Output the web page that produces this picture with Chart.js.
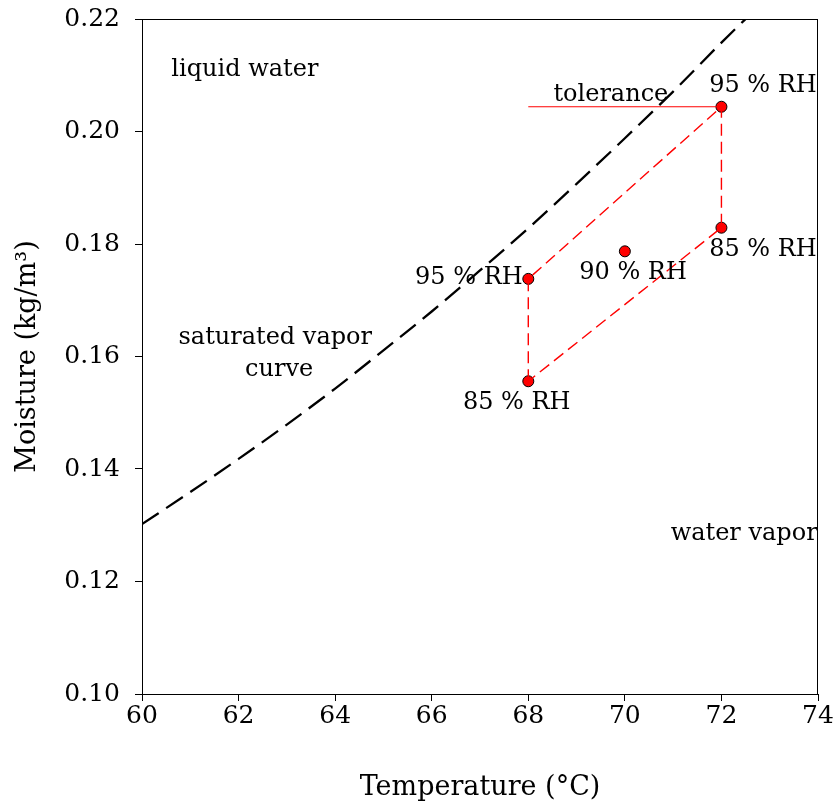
<!DOCTYPE html>
<html>
<head>
<meta charset="utf-8">
<script src="https://cdn.jsdelivr.net/npm/chart.js@4/dist/chart.umd.min.js"></script>
<style>
  html, body { margin: 0; padding: 0; background: #fff; }
  #wrap { width: 838px; height: 808px; }
</style>
</head>
<body>
<div id="wrap"><canvas id="chart"></canvas></div>
<script>
    "use strict";

    // saturated vapor curve
    var curveTemps = [60, 61, 62, 63, 64, 65, 66, 67, 68, 69, 70, 71, 72, 73, 74];
    var curveMoisture = [0.1302, 0.1359, 0.1418, 0.1479, 0.1543, 0.1611, 0.1680, 0.1753,
        0.1828, 0.1907, 0.1988, 0.2071, 0.2158, 0.2242, 0.2330];

    // test conditions
    var rhTemps = [68, 68, 70, 72, 72];
    var rhMoisture = [0.1556, 0.1738, 0.1787, 0.1829, 0.2044];
    var rhNames = ["85 % RH", "95 % RH", "90 % RH", "85 % RH", "95 % RH"];

    // tolerance window corners (order traces the outline)
    var boxTemps = [68, 68, 72, 72, 68];
    var boxMoisture = [0.1556, 0.1738, 0.2044, 0.1829, 0.1556];

    var toleranceTemps = [68, 72];
    var toleranceMoisture = [0.2044, 0.2044];

    var xTicks = [60, 62, 64, 66, 68, 70, 72, 74];
    var yTicks = [0.10, 0.12, 0.14, 0.16, 0.18, 0.20, 0.22];

    var FONT = "'DejaVu Serif', serif";

    function pairs(xs, ys) {
        var out = [];
        for (var i = 0; i < xs.length; i++) {
            out.push({ x: xs[i], y: ys[i] });
        }
        return out;
    }

    // text in the plot, anchored in data units
    var notes = [
        { text: "liquid water", x: 62.13, y: 0.2109 },
        { text: "tolerance", x: 69.71, y: 0.2065 },
        { text: "saturated vapor", x: 62.76, y: 0.1633 },
        { text: "curve", x: 62.84, y: 0.1576 },
        { text: "water vapor", x: 72.47, y: 0.1284 },
        { text: rhNames[4], x: 72.86, y: 0.2081 },
        { text: rhNames[3], x: 72.86, y: 0.1789 },
        { text: rhNames[2], x: 70.17, y: 0.1748 },
        { text: rhNames[1], x: 66.77, y: 0.1740 },
        { text: rhNames[0], x: 67.76, y: 0.1517 }
    ];

    var notesPlugin = {
        id: "notes",
        afterDatasetsDraw: function(chart) {
            var ctx = chart.ctx;
            var xs = chart.scales.x;
            var ys = chart.scales.y;
            ctx.save();
            ctx.fillStyle = "#000";
            ctx.font = "24px " + FONT;
            ctx.textAlign = "center";
            ctx.textBaseline = "middle";
            notes.forEach(function(n) {
                ctx.fillText(n.text, xs.getPixelForValue(n.x), ys.getPixelForValue(n.y));
            });
            ctx.restore();
        }
    };

    var framePlugin = {
        id: "frame",
        afterDraw: function(chart) {
            var a = chart.chartArea;
            var ctx = chart.ctx;
            ctx.save();
            ctx.strokeStyle = "#000";
            ctx.lineWidth = 1;
            ctx.strokeRect(a.left + 0.5, a.top + 0.5, a.right - a.left - 1, a.bottom - a.top);
            ctx.restore();
        }
    };

    new Chart(document.getElementById("chart"), {
        type: "scatter",
        data: {
            datasets: [{
                type: "line",
                data: pairs(curveTemps, curveMoisture),
                borderColor: "#000",
                borderWidth: 2.3,
                borderDash: [20, 9],
                pointRadius: 0,
                cubicInterpolationMode: "monotone",
                fill: false
            }, {
                type: "line",
                data: pairs(boxTemps, boxMoisture),
                borderColor: "#ff0000",
                borderWidth: 1.4,
                borderDash: [12, 6],
                pointRadius: 0,
                tension: 0,
                fill: false
            }, {
                type: "line",
                data: pairs(toleranceTemps, toleranceMoisture),
                borderColor: "#ff0000",
                borderWidth: 1.2,
                pointRadius: 0,
                tension: 0,
                fill: false
            }, {
                data: pairs(rhTemps, rhMoisture),
                backgroundColor: "#ff0000",
                borderColor: "#000",
                borderWidth: 1,
                pointRadius: 5.5
            }]
        },
        options: {
            responsive: true,
            maintainAspectRatio: false,
            animation: false,
            layout: { padding: { top: 19, right: 20, left: 0, bottom: 0 } },
            plugins: {
                legend: { display: false },
                tooltip: { enabled: false }
            },
            scales: {
                x: {
                    type: "linear",
                    min: 60,
                    max: 74,
                    afterBuildTicks: function(scale) {
                        scale.ticks = xTicks.map(function(v) { return { value: v }; });
                    },
                    afterFit: function(scale) {
                        scale.height = 114;
                        scale.paddingLeft = 0;
                        scale.paddingRight = 0;
                    },
                    grid: { drawOnChartArea: false, tickLength: 7, color: "#000" },
                    border: { color: "#000", width: 1 },
                    ticks: {
                        color: "#000",
                        padding: 0,
                        font: { family: FONT, size: 25 },
                        maxRotation: 0,
                        callback: function(v) { return String(v); }
                    },
                    title: {
                        display: true,
                        text: "Temperature (°C)",
                        color: "#000",
                        font: { family: FONT, size: 27 },
                        padding: { top: 18 }
                    }
                },
                y: {
                    type: "linear",
                    min: 0.10,
                    max: 0.22,
                    afterBuildTicks: function(scale) {
                        scale.ticks = yTicks.map(function(v) { return { value: v }; });
                    },
                    afterFit: function(scale) {
                        scale.width = 142;
                        scale.paddingTop = 0;
                        scale.paddingBottom = 0;
                    },
                    grid: { drawOnChartArea: false, tickLength: 7, color: "#000" },
                    border: { color: "#000", width: 1 },
                    ticks: {
                        color: "#000",
                        padding: 15,
                        font: { family: FONT, size: 25 },
                        callback: function(v) { return v.toFixed(2); }
                    },
                    title: {
                        display: true,
                        text: "Moisture (kg/m³)",
                        color: "#000",
                        font: { family: FONT, size: 27 },
                        padding: { top: 12 }
                    }
                }
            }
        },
        plugins: [notesPlugin, framePlugin]
    });
</script>
</body>
</html>
